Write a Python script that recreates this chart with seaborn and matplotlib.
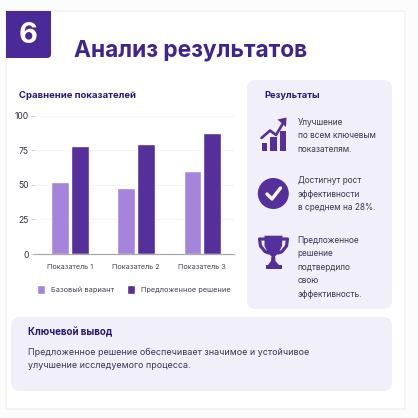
import matplotlib
matplotlib.use("Agg")
import matplotlib.pyplot as plt
from matplotlib.patches import FancyBboxPatch, Rectangle, Circle, Polygon
import pandas as pd
import seaborn as sns

categories = ["Показатель 1", "Показатель 2", "Показатель 3"]
base_values = [52.5, 48, 60]
proposed_values = [78.5, 80, 88]
series_names = ["Базовый вариант", "Предложенное решение"]
y_ticks = [0, 25, 50, 75, 100]

LIGHT = "#a584dc"
DARK = "#55309a"
NAVY = "#2a1a78"
TEXT = "#3a3550"
PANEL = "#f1effa"

sns.set_theme(style="white")
plt.rcParams["font.family"] = ["Inter", "DejaVu Sans"]

W = 418
fig = plt.figure(figsize=(W / 100, W / 100), dpi=100, facecolor="#fcfcfc")

bg = fig.add_axes([0, 0, 1, 1], zorder=0)
bg.set_xlim(0, W)
bg.set_ylim(W, 0)
bg.axis("off")


def rbox(x0, y0, x1, y1, r, color, z=1, **kw):
    p = FancyBboxPatch((x0 + r, y0 + r), x1 - x0 - 2 * r, y1 - y0 - 2 * r,
                       boxstyle=f"round,pad={r},rounding_size={r}",
                       fc=color, ec=kw.pop("ec", "none"), lw=kw.pop("lw", 0), zorder=z, **kw)
    bg.add_patch(p)


# card and panels
rbox(6, 11, 405, 409, 1, "white", 1, ec="#f2f2f4", lw=1.2)
rbox(247, 80, 392, 309, 9, PANEL, 2)
rbox(11, 317, 392, 391, 9, PANEL, 2)

# number badge
BADGE = "#4a2a96"
bg.add_patch(Rectangle((6, 11), 45, 40, fc=BADGE, ec="none", zorder=3))
bg.add_patch(Rectangle((6, 45), 38, 13, fc=BADGE, ec="none", zorder=3))
rbox(38, 44, 51, 58, 4, BADGE, 3)
bg.text(28.5, 35.5, "6", color="white", fontsize=21, fontweight="bold",
        ha="center", va="center", zorder=4)
bg.text(74, 50.5, "Анализ результатов", color="#3f2390", fontsize=16.4,
        fontweight="bold", ha="left", va="center", zorder=4)
bg.text(19, 95, "Сравнение показателей", color=NAVY, fontsize=6.85,
        fontweight="bold", ha="left", va="center", zorder=4)

# results panel
bg.text(264.5, 95, "Результаты", color=NAVY, fontsize=6.7, fontweight="bold",
        ha="left", va="center", zorder=4)
blocks = [
    (122.3, ["Улучшение", "по всем ключевым", "показателям."]),
    (180.7, ["Достигнут рост", "эффективности", "в среднем на 28%."]),
    (240.2, ["Предложенное", "решение", "подтвердило", "свою", "эффективность."]),
]
for y0, lines in blocks:
    for i, s in enumerate(lines):
        bg.text(297.5, y0 + i * 13.5, s, color=TEXT, fontsize=6.0, va="center", zorder=4)

# chart-up icon
ICON = "#55309a"
for x0, x1, top in [(261.5, 267, 142.7), (270, 277, 136.7), (280, 286, 130.7)]:
    bg.add_patch(Rectangle((x0, top), x1 - x0, 151 - top, fc=ICON, ec="none", zorder=4))
bg.plot([261.5, 270, 276, 283.5], [138, 130.5, 135, 122.5], color=ICON, lw=1.9, zorder=4)
bg.add_patch(Polygon([[277.5, 119.5], [286.5, 117.5], [286, 127]], fc=ICON, ec="none", zorder=4))

# check icon
bg.add_patch(Circle((273.3, 193.5), 15.5, fc=ICON, ec="none", zorder=4))
bg.plot([267, 272, 280.5], [194, 199, 188], color="white", lw=2.4,
        solid_capstyle="round", solid_joinstyle="round", zorder=5)

# trophy icon
bg.add_patch(Polygon([[264.5, 235.7], [282.5, 235.7], [282, 246], [278.5, 253], [275.5, 256],
                      [271, 256], [268, 253], [264.5, 246]], fc=ICON, ec="none", zorder=4))
bg.plot([265, 259.5, 260.5, 265, 268.5], [239, 239, 246, 251.5, 253], color=ICON, lw=2.3, zorder=4)
bg.plot([282, 287.5, 286.5, 282, 278.5], [239, 239, 246, 251.5, 253], color=ICON, lw=2.3, zorder=4)
bg.add_patch(Polygon([[271.5, 255], [275, 255], [275.5, 261], [279, 265], [268, 265], [271, 261]],
                     fc=ICON, ec="none", zorder=4))
bg.add_patch(Rectangle((265.5, 264.5), 16, 4.5, fc=ICON, ec="none", zorder=4))

# key takeaway
bg.text(28, 332, "Ключевой вывод", color=NAVY, fontsize=7.0, fontweight="bold",
        va="center", zorder=4)
bg.text(28, 352, "Предложенное решение обеспечивает значимое и устойчивое",
        color=TEXT, fontsize=6.45, va="center", zorder=4)
bg.text(28, 366, "улучшение исследуемого процесса.", color=TEXT, fontsize=6.45,
        va="center", zorder=4)

# chart
df = pd.DataFrame({
    "category": categories * 2,
    "value": base_values + proposed_values,
    "series": [series_names[0]] * 3 + [series_names[1]] * 3,
})
L, R, T, B = 34, 234, 116, 254
ax = fig.add_axes([L / W, 1 - B / W, (R - L) / W, (B - T) / W], zorder=5)
ax.patch.set_alpha(0)
sns.barplot(data=df, x="category", y="value", hue="series", hue_order=series_names,
            palette=[LIGHT, DARK], width=0.6, gap=0.1, saturation=1, ax=ax, legend=False)
ax.set_xlim(-0.55, 2.48)
ax.set_ylim(0, 100)
ax.set_yticks(y_ticks)
ax.set_xlabel("")
ax.set_ylabel("")
ax.set_axisbelow(True)
ax.grid(axis="y", color="#f4f4f6", lw=0.8)
for s in ["top", "right", "left"]:
    ax.spines[s].set_visible(False)
ax.spines["bottom"].set_color("#a9a9b3")
ax.spines["bottom"].set_linewidth(0.9)
ax.tick_params(axis="y", length=2, width=0.7, color="#c9c9d0", labelsize=6.2,
               labelcolor="#33303f", pad=2, left=True)
ax.tick_params(axis="x", length=0, labelsize=5.2, labelcolor="#45424f", pad=7)

# legend
handles = [Rectangle((0, 0), 1, 1, fc=LIGHT), Rectangle((0, 0), 1, 1, fc=DARK)]
leg = fig.legend(handles, series_names, loc="center", ncol=2, frameon=False,
                 bbox_to_anchor=(133.5 / W, 1 - 289.5 / W), fontsize=5.3,
                 handlelength=1.1, handleheight=1.6, handletextpad=0.8, columnspacing=1.75,
                 labelcolor="#45424f")
fig.savefig("out.png", dpi=100, facecolor=fig.get_facecolor())
